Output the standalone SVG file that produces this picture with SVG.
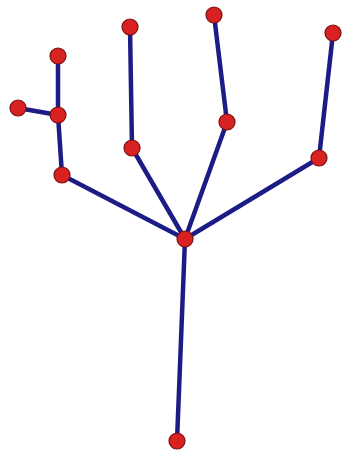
<svg xmlns="http://www.w3.org/2000/svg" width="342" height="454" viewBox="0 0 342 454">
<style>
.e{stroke:#1c1c86;stroke-width:4.5;stroke-linecap:round;fill:none}
.n{fill:#d82222;stroke:#7a1010;stroke-width:1.2}
</style>
<rect width="342" height="454" fill="#ffffff"/>
<g id="edges">
<line class="e" x1="185" y1="239" x2="177" y2="441"/>
<line class="e" x1="185" y1="239" x2="62" y2="175"/>
<line class="e" x1="62" y1="175" x2="58" y2="115"/>
<line class="e" x1="58" y1="115" x2="58" y2="56"/>
<line class="e" x1="58" y1="115" x2="18" y2="108"/>
<line class="e" x1="185" y1="239" x2="132" y2="148"/>
<line class="e" x1="132" y1="148" x2="130" y2="27"/>
<line class="e" x1="185" y1="239" x2="227" y2="122"/>
<line class="e" x1="227" y1="122" x2="214" y2="15"/>
<line class="e" x1="185" y1="239" x2="319" y2="158"/>
<line class="e" x1="319" y1="158" x2="333" y2="33"/>
</g>
<g id="n1"><circle class="n" cx="185" cy="239" r="8"/></g>
<g id="n2"><circle class="n" cx="177" cy="441" r="8"/></g>
<g id="n3"><circle class="n" cx="62" cy="175" r="8"/></g>
<g id="n4"><circle class="n" cx="58" cy="115" r="8"/></g>
<g id="n5"><circle class="n" cx="58" cy="56" r="8"/></g>
<g id="n6"><circle class="n" cx="18" cy="108" r="8"/></g>
<g id="n7"><circle class="n" cx="132" cy="148" r="8"/></g>
<g id="n8"><circle class="n" cx="130" cy="27" r="8"/></g>
<g id="n9"><circle class="n" cx="227" cy="122" r="8"/></g>
<g id="n10"><circle class="n" cx="214" cy="15" r="8"/></g>
<g id="n11"><circle class="n" cx="319" cy="158" r="8"/></g>
<g id="n12"><circle class="n" cx="333" cy="33" r="8"/></g>
</svg>
